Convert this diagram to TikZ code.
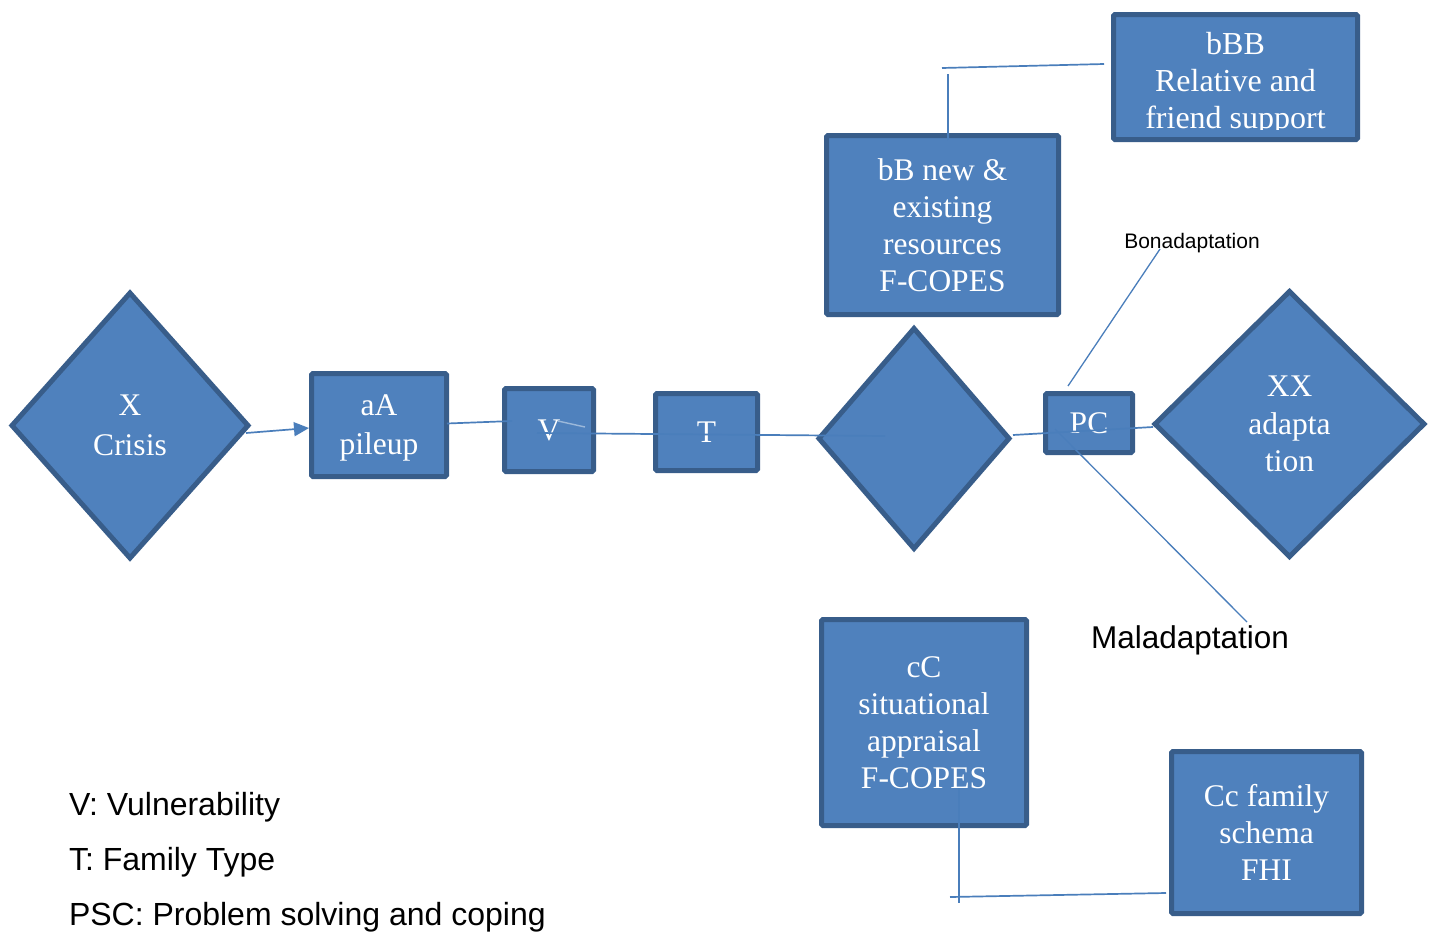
\documentclass[tikz,border=0pt]{standalone}
\usepackage{fontspec}
\setmainfont{Liberation Serif}
\newfontfamily\arialfont{Liberation Sans}
\usetikzlibrary{shapes.geometric,arrows.meta}
\definecolor{boxfill}{HTML}{4F81BD}
\definecolor{boxline}{HTML}{385D8A}
\definecolor{connline}{HTML}{4A7EBB}
\tikzset{
  box/.style={rectangle, draw=boxline, fill=boxfill, line width=5pt, inner sep=0pt, outer sep=0pt,
    text=white, align=center, rounded corners=1.5pt, font=\fontsize{31.5}{37}\selectfont},
  dia/.style={box, diamond, rounded corners=0pt},
  conn/.style={draw=connline, line width=1.7pt},
  faint/.style={draw=connline!55, line width=1.4pt},
  lbl/.style={font=\arialfont\fontsize{32}{37}\selectfont, text=black, inner sep=0pt, outer sep=0pt},
}
\begin{document}
\begin{tikzpicture}[x=1pt,y=-1pt]
\useasboundingbox (0,0) rectangle (1435,932);
\fill[white] (0,0) rectangle (1435,932);

% nodes
\node[dia, minimum width=236pt, minimum height=265pt, font=\fontsize{31.5}{40}\selectfont] (X) at (130,425.5) {X\\Crisis};
\node[box, minimum width=135pt, minimum height=103pt, font=\fontsize{31.5}{39}\selectfont, text depth=0pt] (aA) at (379,425) {aA\\pileup};
\node[box, minimum width=89pt, minimum height=83pt] (V) at (549,430) {V};
\node[box, minimum width=102pt, minimum height=77pt] (T) at (706.5,432) {T};
\node[dia, minimum width=190pt, minimum height=220pt] (mid) at (914,438.5) {};
\node[box, minimum width=232pt, minimum height=179pt] (bB) at (942.5,225) {bB new \&\\existing\\resources\\F-COPES};
\node[box, minimum width=244pt, minimum height=125pt] (bBB) at (1235.5,77) {};
\begin{scope}
  \clip (1100,0) rectangle (1370,129);
  \node[text=white, align=center, inner sep=0pt, font=\fontsize{32}{37}\selectfont] (bBBtext) at (1235.5,83.5) {bBB\\Relative and\\friend support};
\end{scope}
\node[box, minimum width=87pt, minimum height=59pt] (PC) at (1089,423) {PC};
\node[dia, minimum width=269pt, minimum height=265pt, font=\fontsize{31.5}{37.5}\selectfont] (XX) at (1289.5,424) {XX\\adapta\\tion};
\node[box, minimum width=205pt, minimum height=206pt] (cC) at (924,722.5) {cC\\situational\\appraisal\\F-COPES};
\node[box, minimum width=190pt, minimum height=162pt] (Cc) at (1266.5,832.5) {Cc family\\schema\\FHI};

% labels
\node[lbl, font=\arialfont\fontsize{21}{25}\selectfont, anchor=base] (bon) at (1192,248) {Bonadaptation};
\node[lbl, font=\arialfont\fontsize{31.5}{37}\selectfont, anchor=base] (mal) at (1190,648) {Maladaptation};
\node[lbl, anchor=base west] (legV) at (69,815) {V: Vulnerability};
\node[lbl, anchor=base west] (legT) at (69,870) {T: Family Type};
\node[lbl, anchor=base west] (legP) at (69,925) {PSC: Problem solving and coping};

% connector end points
\coordinate (xA) at (246,433);
\coordinate (aIn) at (309,428);
\coordinate (aOut) at (447,423.5);
\coordinate (vIn) at (512,421);
\coordinate (vF1) at (558,421);
\coordinate (vF2) at (585,427);
\coordinate (vOut) at (537,433);
\coordinate (midIn) at (885,436);
\coordinate (midOut) at (1013,435);
\coordinate (xxIn) at (1153,427);
\coordinate (bonLow) at (1068,386);
\coordinate (bonHigh) at (1160,249);
\coordinate (malStart) at (1055,429);
\coordinate (malEnd) at (1247,622);
\coordinate (bBtop) at (948,140);
\coordinate (bBup) at (948,74);
\coordinate (hA) at (942,68);
\coordinate (bBBin) at (1104,64);
\coordinate (cCin) at (959,788);
\coordinate (cCdown) at (959,903);
\coordinate (hB) at (950,897);
\coordinate (CcIn) at (1166,893);

% connectors
\draw[conn, -{Triangle[length=15pt,width=14pt]}] (xA) -- (aIn);
\draw[conn] (aOut) -- (vIn);
\draw[faint] (vF1) -- (vF2);
\draw[conn] (vOut) -- (midIn);
\draw[conn] (midOut) -- (xxIn);
\draw[conn, line width=1.3pt] (bonLow) -- (bonHigh);
\draw[conn, line width=1.3pt] (malStart) -- (malEnd);
\draw[conn] (bBtop) -- (bBup);
\draw[conn] (hA) -- (bBBin);
\draw[conn] (cCin) -- (cCdown);
\draw[conn] (hB) -- (CcIn);
\end{tikzpicture}
\end{document}
